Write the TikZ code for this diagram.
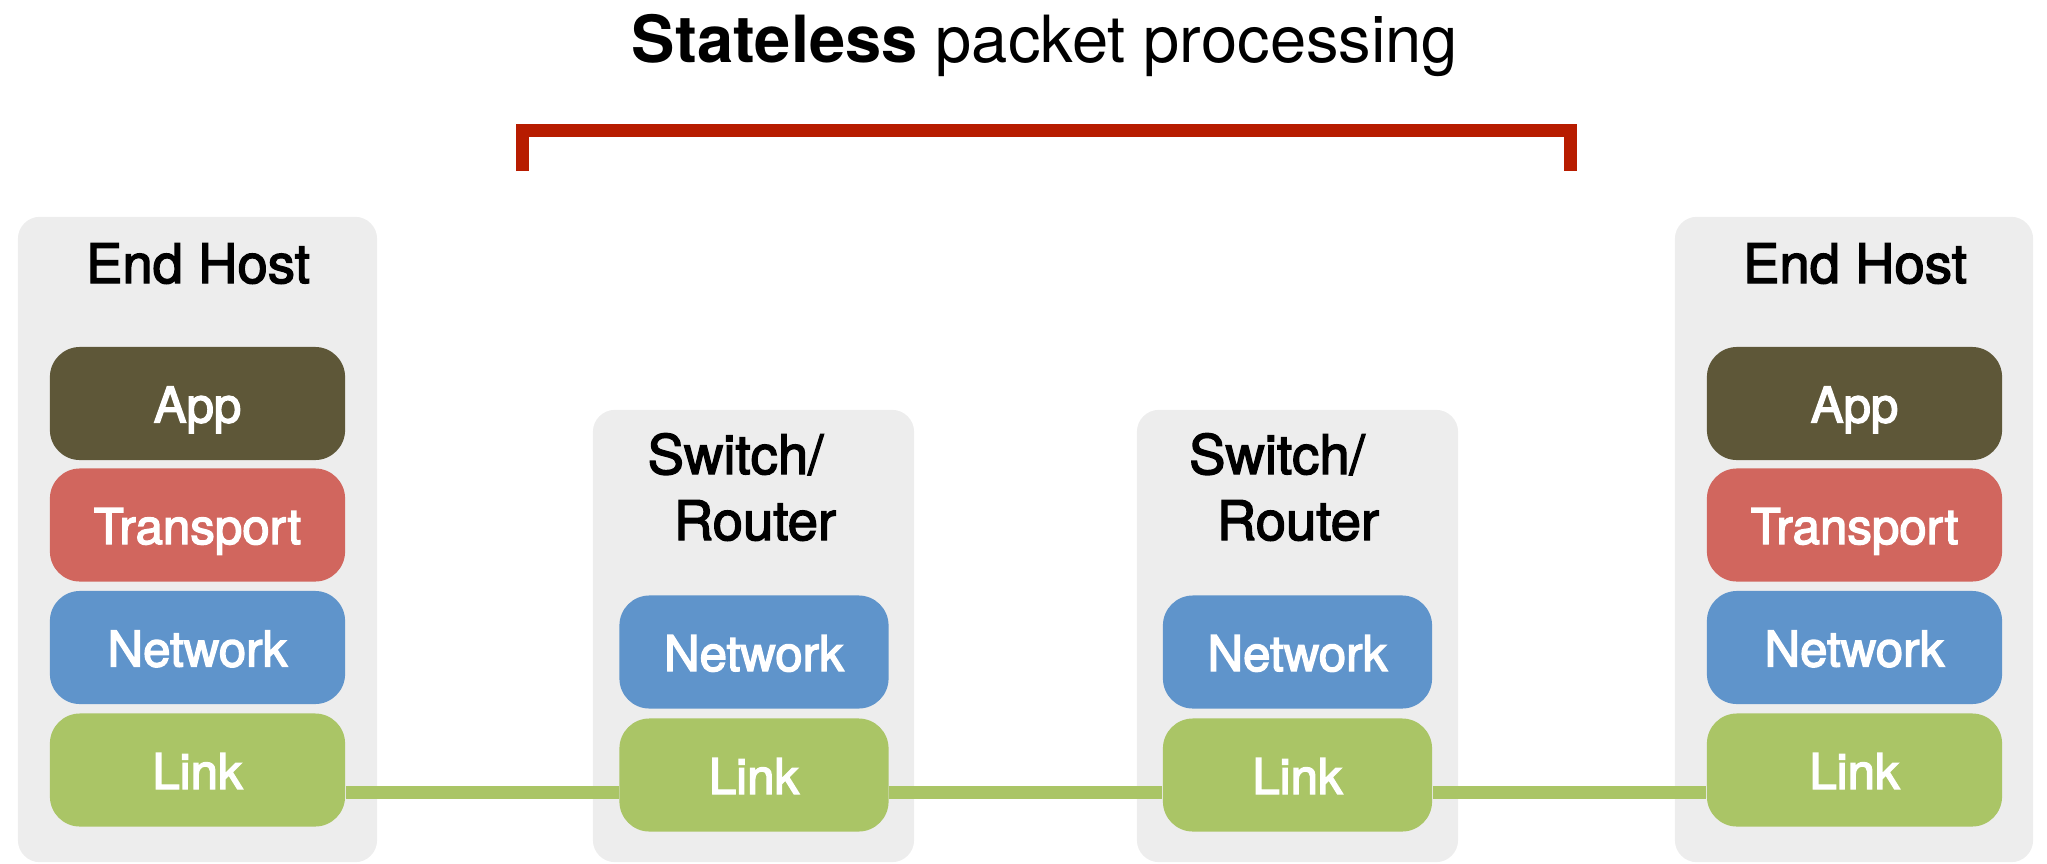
\documentclass[tikz,border=0pt]{standalone}
\usepackage{fontspec}
\setmainfont{TeX Gyre Heros}
\newfontfamily\medfont[FakeBold=2.8]{TeX Gyre Heros}
\newfontfamily\headfont[FakeBold=2.5]{TeX Gyre Heros}
\pgfdeclarelayer{back}
\pgfdeclarelayer{mid}
\pgfsetlayers{back,mid,main}
\definecolor{boxgray}{HTML}{EDEDED}
\definecolor{appc}{HTML}{5E5738}
\definecolor{transc}{HTML}{D1665E}
\definecolor{netc}{HTML}{5F94CB}
\definecolor{linkc}{HTML}{AAC566}
\definecolor{bracketc}{HTML}{B71C00}
\tikzset{
  devbox/.style={draw=none, fill=boxgray, rounded corners=0.22cm, inner sep=0pt},
  layerbox/.style={draw=none, rounded corners=0.3cm, inner sep=0pt,
    minimum height=1.13cm, text=white, text height=10.8pt, text depth=0pt,
    font=\medfont\fontsize{14}{16}\selectfont},
  hostlayer/.style={layerbox, minimum width=2.95cm},
  swlayer/.style={layerbox, minimum width=2.69cm},
  heading/.style={anchor=base, inner sep=0pt, font=\headfont\fontsize{15.5}{18}\selectfont},
  linkline/.style={draw=linkc, line width=3.8pt},
  bracketline/.style={draw=bracketc, line width=3.7pt, line join=miter, line cap=butt}
}
\begin{document}
\begin{tikzpicture}[x=0.01cm, y=-0.01cm]
\useasboundingbox (0,0) rectangle (2047,863);

% title
\node[anchor=base, inner sep=0pt, font=\fontsize{18.5}{22}\selectfont] (title) at (1045,62) {\textbf{Stateless} packet processing};

% bracket
\coordinate (bl) at (522.5,171);
\coordinate (blt) at (522.5,130);
\coordinate (brt) at (1570,130);
\coordinate (br) at (1570,171);
\draw[bracketline] (bl) -- (blt) -- (brt) -- (br);

% device boxes
\begin{pgfonlayer}{back}
\node[devbox, minimum width=3.59cm, minimum height=6.45cm] (hostL) at (197.5,539.5) {};
\node[devbox, minimum width=3.58cm, minimum height=6.45cm] (hostR) at (1854,539.5) {};
\node[devbox, minimum width=3.21cm, minimum height=4.52cm] (sw1) at (753.5,636) {};
\node[devbox, minimum width=3.21cm, minimum height=4.52cm] (sw2) at (1297.5,636) {};
\end{pgfonlayer}

% headings
\node[heading] (hostLt) at (198,283) {End Host};
\node[heading] (hostRt) at (1855,283) {End Host};
\node[heading] (sw1a) at (735.5,474) {Switch/};
\node[heading] (sw1b) at (755,540) {Router};
\node[heading] (sw2a) at (1277,474) {Switch/};
\node[heading] (sw2b) at (1298,540) {Router};

% left host layers
\node[hostlayer, fill=appc] (hLapp) at (197.5,403.5) {App};
\node[hostlayer, fill=transc] (hLtr) at (197.5,525) {Transport};
\node[hostlayer, fill=netc] (hLnet) at (197.5,647.5) {Network};
\node[hostlayer, fill=linkc] (hLlink) at (197.5,770) {Link};

% right host layers
\node[hostlayer, fill=appc] (hRapp) at (1854.5,403.5) {App};
\node[hostlayer, fill=transc] (hRtr) at (1854.5,525) {Transport};
\node[hostlayer, fill=netc] (hRnet) at (1854.5,647.5) {Network};
\node[hostlayer, fill=linkc] (hRlink) at (1854.5,770) {Link};

% switch layers
\node[swlayer, fill=netc] (s1net) at (754,652) {Network};
\node[swlayer, fill=linkc] (s1link) at (754,775) {Link};
\node[swlayer, fill=netc] (s2net) at (1297.5,652) {Network};
\node[swlayer, fill=linkc] (s2link) at (1297.5,775) {Link};

% link line
\coordinate (ly) at (0,792.5);
\begin{pgfonlayer}{mid}
\draw[linkline] (hLlink.east |- ly) -- (s1link.west |- ly);
\draw[linkline] (s1link.east |- ly) -- (s2link.west |- ly);
\draw[linkline] (s2link.east |- ly) -- (hRlink.west |- ly);
\end{pgfonlayer}
\end{tikzpicture}
\end{document}
